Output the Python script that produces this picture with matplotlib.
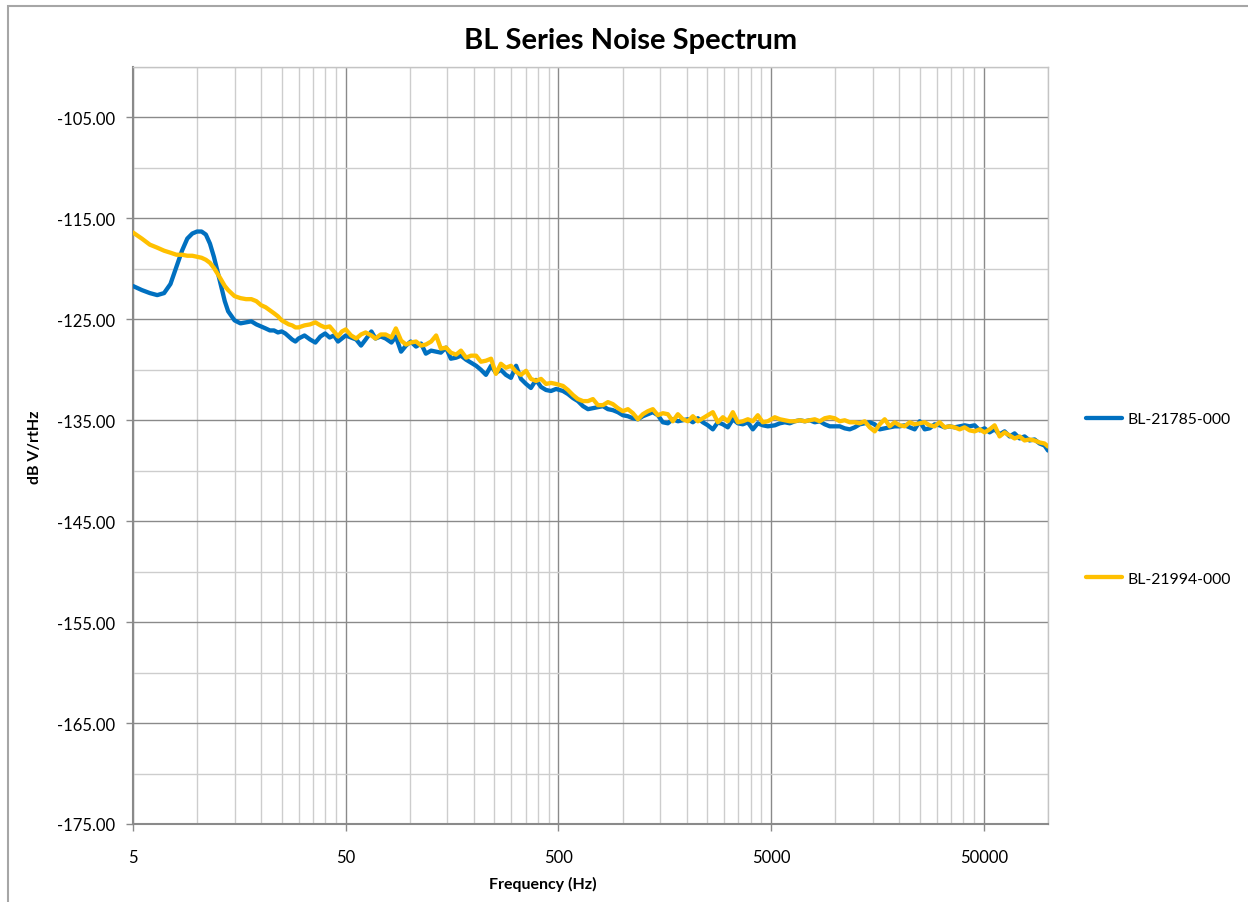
import matplotlib
matplotlib.use('Agg')
import matplotlib.pyplot as plt
from matplotlib.patches import Rectangle
from matplotlib.ticker import FixedLocator, FuncFormatter, NullFormatter

# frequency grid shared by both traces (Hz)
freq_hz = [
    5, 5.5, 6, 6.5, 7, 7.5, 8, 8.5, 9, 9.5, 10, 10.5, 11, 11.5, 12, 12.5, 13, 13.5, 14,
    15, 16, 17, 18, 19, 20, 21, 22, 23, 24, 25, 26, 27, 28, 29, 30, 32, 34, 36, 38, 40,
    42, 44, 46, 48,
    50, 53, 56, 59, 62, 66, 69, 73, 77, 82, 86, 91, 96, 101, 107, 113, 119, 126, 133, 140,
    148, 156, 165, 174, 184, 194, 205, 216, 228, 241, 254, 268, 283, 299, 316, 333, 352,
    371, 392, 414, 437, 461, 487,
    525, 554, 585, 617, 652, 688, 726, 766, 809, 854, 901, 951, 1004, 1060, 1119, 1181,
    1246, 1316, 1389, 1466, 1547, 1633, 1724, 1820, 1921, 2028, 2141, 2260, 2385, 2518,
    2658, 2806, 2962, 3126, 3300, 3483, 3677, 3881, 4097, 4324, 4565, 4818,
    5200, 5490, 5791, 6113, 6452, 6811, 7189, 7589, 8010, 8455, 8925, 9421, 9944, 10497,
    11080, 11696, 12346, 13032, 13756, 14520, 15327, 16178, 17077, 18026, 19027, 20084,
    21200, 22378, 23621, 24933, 26318, 27780, 29324, 30953, 32672, 34487, 36403, 38425,
    40560, 42813, 45191, 47702, 50350, 53147, 56099, 59216, 62505, 65977, 69642, 73511,
    77594, 81904, 86454, 91256, 96325, 100000,
]

# BL-21785-000 (dB V/rtHz)
bl_21785 = [
    -121.7, -122.1, -122.4, -122.6, -122.4, -121.5, -119.8, -118.2, -117.0, -116.5,
    -116.3, -116.3, -116.6, -117.5, -118.8, -120.3, -121.8, -123.2, -124.2, -125.1,
    -125.4, -125.3, -125.2, -125.5, -125.7, -125.9, -126.1, -126.1, -126.3, -126.2,
    -126.4, -126.7, -127.0, -127.2, -126.9, -126.6, -127.0, -127.3, -126.7, -126.4,
    -126.8, -126.6, -127.2, -126.9,
    -126.6, -126.8, -127.0, -127.6, -127.0, -126.2, -126.9, -126.7, -126.9, -127.3,
    -126.7, -128.2, -127.6, -127.2, -127.7, -127.4, -128.4, -128.1, -128.2, -128.3,
    -127.8, -128.9, -128.8, -128.6, -129.0, -129.3, -129.6, -130.0, -130.5, -129.6,
    -130.3, -130.0, -130.5, -130.8, -129.6, -130.9, -131.4, -131.8, -131.0, -131.7,
    -132.0, -132.1, -131.9,
    -132.1, -132.4, -132.8, -133.1, -133.6, -133.9, -133.8, -133.7, -133.6, -133.9,
    -134.0, -134.2, -134.5, -134.6, -134.8, -134.9, -134.6, -134.4, -134.2, -134.5,
    -135.2, -135.3, -134.9, -135.1, -135.0, -134.9, -135.2, -134.8, -135.2, -135.5,
    -135.9, -135.2, -135.4, -135.7, -134.9, -135.3, -135.4, -135.2, -135.9, -135.3,
    -135.5, -135.6,
    -135.5, -135.3, -135.2, -135.3, -135.1, -135.0, -135.1, -135.0, -135.2, -135.1,
    -135.4, -135.6, -135.6, -135.6, -135.8, -135.9, -135.7, -135.4, -135.3, -135.2,
    -135.4, -135.9, -135.8, -135.7, -135.6, -135.6, -135.5, -135.7, -135.9, -135.1,
    -135.9, -135.8, -135.4, -135.5, -135.7, -135.6, -135.7, -135.6, -135.5, -135.6,
    -135.5, -136.0, -135.8, -136.2, -135.9, -136.4, -136.1, -136.6, -136.3, -136.8,
    -136.6, -137.0, -136.9, -137.3, -137.5, -138.0,
]

# BL-21994-000 (dB V/rtHz)
bl_21994 = [
    -116.4, -117.0, -117.6, -117.9, -118.2, -118.4, -118.6, -118.6, -118.7, -118.7,
    -118.8, -118.9, -119.1, -119.4, -119.9, -120.5, -121.1, -121.7, -122.1, -122.7,
    -122.9, -123.0, -123.0, -123.2, -123.6, -123.8, -124.1, -124.4, -124.7, -125.1,
    -125.3, -125.5, -125.6, -125.8, -125.8, -125.6, -125.5, -125.3, -125.6, -125.8,
    -125.7, -126.2, -126.7, -126.2,
    -126.0, -126.6, -126.9, -126.5, -126.3, -126.6, -126.9, -126.5, -126.5, -126.8,
    -125.9, -127.1, -127.5, -127.3, -127.2, -127.6, -127.5, -127.2, -126.6, -127.9,
    -127.8, -128.3, -128.5, -128.1, -128.8, -128.6, -128.6, -129.2, -129.1, -128.9,
    -130.4, -129.4, -129.8, -129.6, -130.2, -130.5, -130.1, -130.9, -131.1, -130.9,
    -131.4, -131.3, -131.4,
    -131.6, -132.0, -132.5, -132.9, -133.1, -133.1, -132.9, -133.5, -133.5, -133.2,
    -133.4, -133.8, -134.1, -133.9, -134.3, -134.9, -134.4, -134.1, -133.9, -134.5,
    -134.3, -134.4, -135.1, -134.4, -134.9, -135.1, -134.6, -135.1, -134.8, -134.5,
    -134.2, -135.2, -134.7, -135.1, -134.2, -135.2, -135.1, -134.9, -135.1, -134.5,
    -135.2, -135.1,
    -134.7, -134.9, -135.0, -135.1, -135.1, -135.0, -135.1, -135.0, -134.9, -135.1,
    -134.8, -134.7, -134.8, -135.1, -135.0, -135.2, -135.2, -135.3, -135.1, -135.7,
    -136.1, -135.4, -134.9, -135.6, -135.2, -135.5, -135.6, -135.2, -135.4, -135.3,
    -135.2, -135.5, -135.6, -135.2, -135.7, -135.6, -135.7, -135.9, -135.7, -136.0,
    -136.1, -135.9, -136.2, -135.9, -135.5, -136.6, -136.2, -136.5, -136.8, -136.6,
    -137.0, -136.9, -137.0, -137.2, -137.3, -137.6,
]

x_major = [5, 50, 500, 5000, 50000]
x_minor = [k * d for d in (1, 10, 100, 1000, 10000) for k in (10, 15, 20, 25, 30, 35, 40, 45)]
y_major = [-175, -165, -155, -145, -135, -125, -115, -105]
y_minor = [-170, -160, -150, -140, -130, -120, -110, -100]

plt.rcParams['font.family'] = ['Lato', 'DejaVu Sans']

fig = plt.figure(figsize=(12.48, 9.03), dpi=100)
ax = fig.add_axes([133 / 1248, 1 - 825 / 903, (1048 - 133) / 1248, (825 - 68) / 903])

line1, = ax.plot(freq_hz, bl_21785, color='#0070C0', lw=3.1, label='BL-21785-000',
                 solid_joinstyle='round', solid_capstyle='round', zorder=3)
line2, = ax.plot(freq_hz, bl_21994, color='#FFC000', lw=3.1, label='BL-21994-000',
                 solid_joinstyle='round', solid_capstyle='round', zorder=4)

ax.set_xscale('log')
ax.set_xlim(5, 100000)
ax.set_ylim(-175, -100)

ax.xaxis.set_major_locator(FixedLocator(x_major))
ax.xaxis.set_minor_locator(FixedLocator(x_minor))
ax.xaxis.set_major_formatter(FuncFormatter(lambda v, p: f'{v:g}'))
ax.xaxis.set_minor_formatter(NullFormatter())
ax.yaxis.set_major_locator(FixedLocator(y_major))
ax.yaxis.set_minor_locator(FixedLocator(y_minor))
ax.yaxis.set_major_formatter(FuncFormatter(lambda v, p: f'{v:.2f}'))

ax.grid(which='major', color='#8a8a8a', lw=1.0, zorder=1)
ax.grid(which='minor', color='#cdcdcd', lw=1.0, zorder=1)
ax.set_axisbelow(True)

ax.tick_params(which='major', direction='out', length=5, width=1, color='#8a8a8a',
               labelsize=12, labelcolor='#000000')
ax.tick_params(axis='x', which='major', pad=13)
ax.tick_params(axis='y', which='major', pad=8)
ax.tick_params(which='minor', length=0)

for side in ('left', 'bottom'):
    ax.spines[side].set_color('#8a8a8a')
    ax.spines[side].set_linewidth(1.5)
for side in ('top', 'right'):
    ax.spines[side].set_color('#c4c4c4')
    ax.spines[side].set_linewidth(1.0)

fig.text(631 / 1248, 1 - 41 / 903, 'BL Series Noise Spectrum', ha='center', va='center',
         fontsize=21, fontweight='bold')
fig.text(543 / 1248, 1 - 884 / 903, 'Frequency (Hz)', ha='center', va='center',
         fontsize=11.5, fontweight='bold')
fig.text(35 / 1248, 1 - 447 / 903, 'dB V/rtHz', ha='center', va='center',
         fontsize=11.5, fontweight='bold', rotation=90)

leg = ax.legend(handles=[line1, line2], loc='center left',
                bbox_to_anchor=(1086 / 1248, 1 - 500 / 903), bbox_transform=fig.transFigure,
                frameon=False, fontsize=11.3, handlelength=2.3, handletextpad=0.35,
                labelspacing=9.3, borderpad=0, borderaxespad=0)

# chart area outline (runs off the bottom/right of the image)
fig.patches.append(Rectangle((8 / 1248, -0.5), 2.0, 0.5 + 1 - 7 / 903, transform=fig.transFigure,
                             fill=False, edgecolor='#a6a6a6', lw=1.5))

fig.savefig('out.png', dpi=100)
